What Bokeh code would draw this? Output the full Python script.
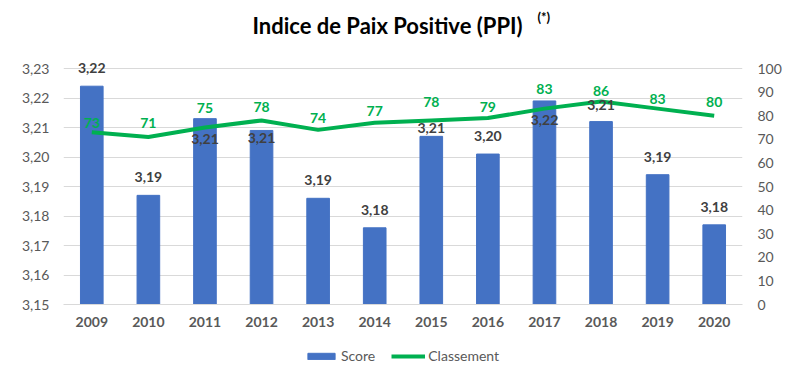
from bokeh.plotting import figure
from bokeh.layouts import column
from bokeh.models import (ColumnDataSource, Range1d, LinearAxis, FixedTicker, LabelSet,
                          CustomJSTickFormatter, Legend, LegendItem, Label, FactorRange)
from bokeh.embed import file_html
from bokeh.resources import INLINE
from bokeh.core.properties import value

years = ["2009", "2010", "2011", "2012", "2013", "2014", "2015", "2016", "2017", "2018", "2019", "2020"]
score = [3.224, 3.187, 3.213, 3.209, 3.186, 3.176, 3.207, 3.201, 3.219, 3.212, 3.194, 3.177]
classement = [73, 71, 75, 78, 74, 77, 78, 79, 83, 86, 83, 80]
left_ticks = [3.15, 3.16, 3.17, 3.18, 3.19, 3.20, 3.21, 3.22, 3.23]
right_ticks = [0, 10, 20, 30, 40, 50, 60, 70, 80, 90, 100]
series_names = ["Score", "Classement"]

# label placement (screen px above the point; style only)
score_label_offsets = [17, 17, -21, -9, 17, 17, 7, 17, -20, 16, 17, 17]
rank_label_offsets = [9, 14, 20, 13, 12, 12, 18, 11, 20, 11, 10, 14]

FONT = "Lato"
BLUE = "#4472C4"
GREEN = "#00B050"
GRAY = "#595959"
DARK = "#404040"

# layout geometry (pixels)
W = 784
FRAME_BOTTOM = 304   # y of the 3,15 gridline from the top
BOTTOM = 34
H = FRAME_BOTTOM + BOTTOM
LEG_H = 28
AXIS_PX = 236        # pixel height of the 3.15..3.23 / 0..100 span
frame_h = FRAME_BOTTOM  # frame reaches the top so the title can live inside it
ext = frame_h / AXIS_PX
l0, l1 = left_ticks[0], left_ticks[-1]
r0, r1 = right_ticks[0], right_ticks[-1]

src = ColumnDataSource(dict(
    x=years, score=score, rank=classement,
    score_lbl=[f"{v:.2f}".replace(".", ",") for v in score],
    rank_lbl=[str(v) for v in classement],
    s_off=[o - 4 for o in score_label_offsets],
    r_off=[o - 5 for o in rank_label_offsets],
))

p = figure(width=W, height=H, x_range=FactorRange(*years),
           y_range=Range1d(l0, l0 + (l1 - l0) * ext),
           output_backend="svg", toolbar_location=None,
           min_border_left=63, min_border_right=41, min_border_top=0, min_border_bottom=BOTTOM)
p.extra_y_ranges = {"rank": Range1d(r0, r0 + (r1 - r0) * ext)}
p.outline_line_color = None
p.background_fill_color = "white"
p.border_fill_color = "white"

p.vbar(x="x", top="score", bottom=l0, width=0.4, color=BLUE, source=src)
p.line(x="x", y="rank", line_color=GREEN, line_width=4, y_range_name="rank", source=src)

p.add_layout(LabelSet(x="x", y="score", text="score_lbl", y_offset="s_off", source=src,
                      text_align="center", text_baseline="bottom", text_font=value(FONT),
                      text_font_style="bold", text_font_size="14px", text_color=DARK))
p.add_layout(LabelSet(x="x", y="rank", text="rank_lbl", y_offset="r_off", source=src,
                      y_range_name="rank",
                      text_align="center", text_baseline="bottom", text_font=value(FONT),
                      text_font_style="bold", text_font_size="14px", text_color=GREEN))

# axes
fmt = CustomJSTickFormatter(code="return tick.toFixed(2).replace('.', ',');")
ya = p.yaxis[0]
ya.ticker = FixedTicker(ticks=left_ticks)
ya.formatter = fmt
ya.axis_line_color = None
ya.major_tick_line_color = None
ya.minor_tick_line_color = None
ya.major_tick_out = 0
ya.minor_tick_out = 0
ya.major_label_text_font = FONT
ya.major_label_text_font_size = "14px"
ya.major_label_text_color = GRAY
ya.major_label_standoff = 14

ra = LinearAxis(y_range_name="rank", ticker=FixedTicker(ticks=right_ticks))
ra.axis_line_color = None
ra.major_tick_line_color = None
ra.minor_tick_line_color = None
ra.major_tick_out = 0
ra.minor_tick_out = 0
ra.major_label_text_font = FONT
ra.major_label_text_font_size = "14px"
ra.major_label_text_color = GRAY
ra.major_label_standoff = 15
p.add_layout(ra, "right")

xa = p.xaxis[0]
xa.axis_line_color = "#d9d9d9"
xa.major_tick_line_color = None
xa.minor_tick_line_color = None
xa.major_tick_out = 0
xa.minor_tick_out = 0
xa.major_label_text_font = FONT
xa.major_label_text_font_size = "14px"
xa.major_label_text_font_style = "bold"
xa.major_label_text_color = GRAY
xa.major_label_standoff = 12

p.xgrid.grid_line_color = None
p.ygrid.ticker = FixedTicker(ticks=left_ticks)
p.ygrid.grid_line_color = "#d9d9d9"

# title, inside the frame's headroom (screen px from the frame's bottom-left)
title = Label(x=324, y=frame_h - 25, x_units="screen", y_units="screen",
              text="Indice de Paix Positive (PPI)", text_align="center", text_baseline="middle",
              text_font=FONT, text_font_style="bold", text_font_size="22px", text_color="#000000")
sup = Label(x=474, y=frame_h - 16, x_units="screen", y_units="screen", text="(*)",
            text_align="left", text_baseline="middle",
            text_font=FONT, text_font_style="bold", text_font_size="13px", text_color="#000000")
p.add_layout(title)
p.add_layout(sup)

# legend strip: same series drawn again, but the view range is far from the data
lg = figure(width=W, height=LEG_H, x_range=FactorRange(*years), y_range=Range1d(1000, 1001),
            output_backend="svg", toolbar_location=None,
            min_border_left=0, min_border_right=0, min_border_top=0, min_border_bottom=0)
lg.axis.visible = False
lg.grid.visible = False
lg.outline_line_color = None
proxy_bar = lg.vbar(x="x", top="score", width=0.4, color=BLUE, source=src)
proxy_line = lg.line(x="x", y="rank", line_color=GREEN, line_width=4, source=src)
legend = Legend(items=[LegendItem(label=series_names[0], renderers=[proxy_bar]),
                       LegendItem(label=series_names[1], renderers=[proxy_line])],
                orientation="horizontal", location=(241, 2),
                label_text_font=FONT, label_text_font_size="14px", label_text_color=GRAY,
                glyph_width=34, glyph_height=8, label_standoff=3, spacing=16,
                border_line_color=None, background_fill_alpha=0, padding=0, margin=0)
lg.add_layout(legend)

layout = column(p, lg, spacing=0)
open("out.html", "w").write(file_html(layout, INLINE))
